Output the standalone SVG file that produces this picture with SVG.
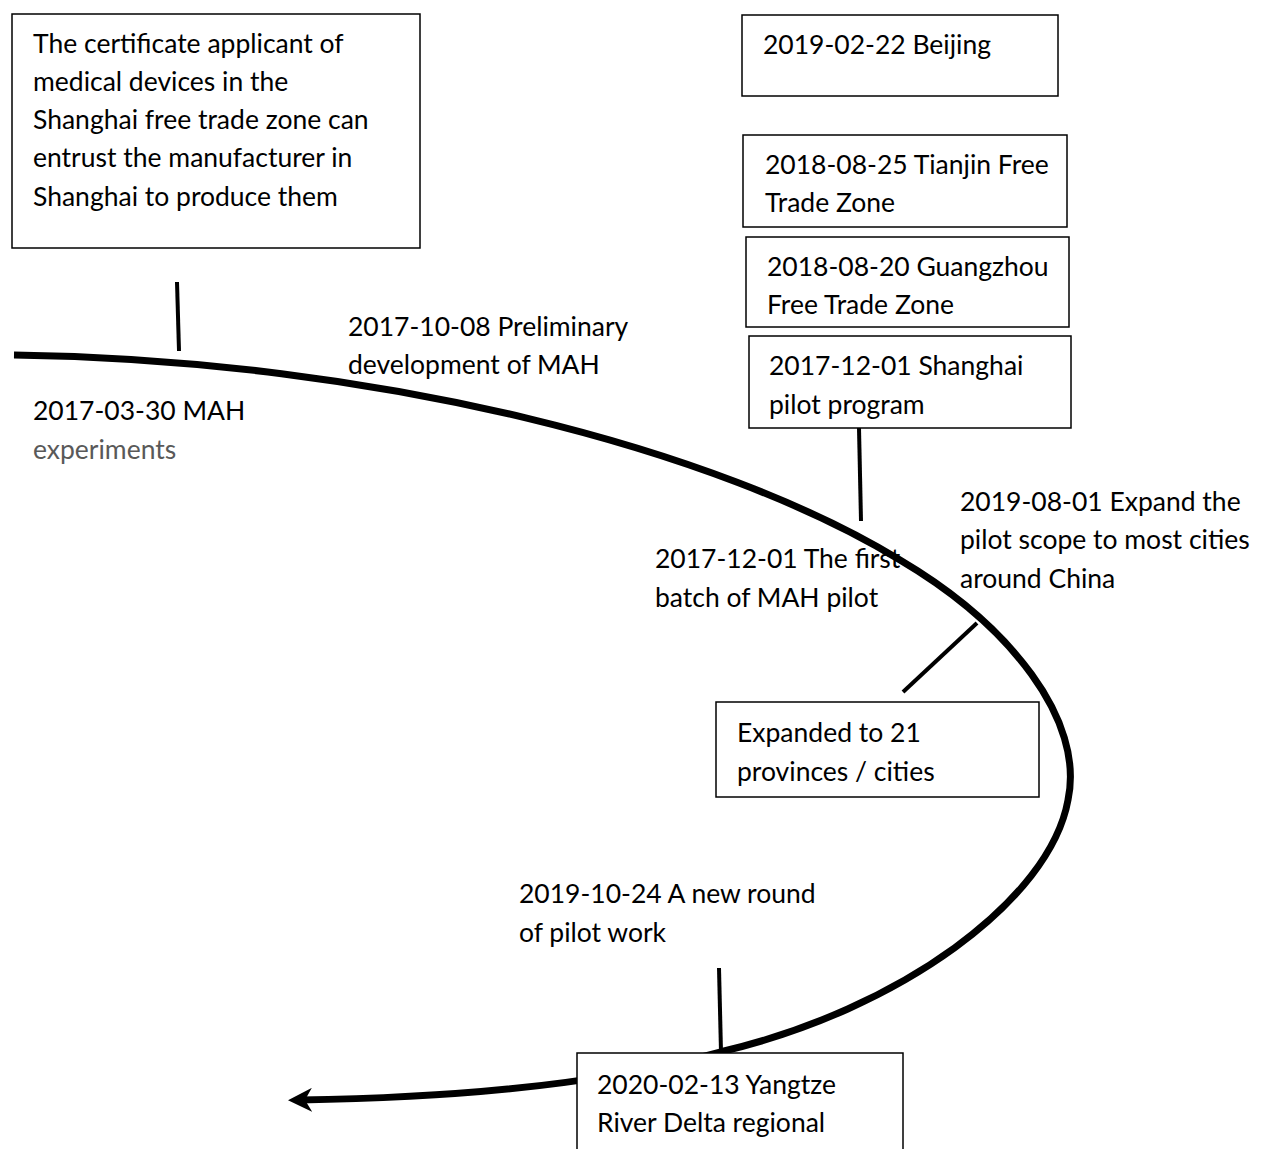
<svg xmlns="http://www.w3.org/2000/svg" width="1272" height="1149" viewBox="0 0 1272 1149">
<style>
.box{fill:#fff;stroke:#000;stroke-width:1.5}
.t{font-family:Lato,"Liberation Sans",sans-serif;font-size:26.5px;fill:#000}
.g{fill:#595959}
.tick{stroke:#000;stroke-width:4;fill:none}
.main{stroke:#000;stroke-width:7;fill:none}
</style>
<defs>
<marker id="arr" markerUnits="userSpaceOnUse" viewBox="0 0 24 24" refX="12" refY="12" markerWidth="24" markerHeight="24" orient="auto">
<path d="M24,12 L0,0 L7,12 L0,24 Z" fill="#000"/>
</marker>
</defs>
<rect width="1272" height="1149" fill="#fff"/>
<g id="connectors">
<path class="main" d="M14,355 C380,360 720,450 900,560 C1010,625 1085,720 1068,800 C1050,900 900,1010 720,1052 C600,1085 450,1098 300,1100" marker-end="url(#arr)"/>
<line class="tick" x1="177" y1="282" x2="179" y2="351"/>
<line class="tick" x1="859" y1="428" x2="861" y2="521"/>
<line class="tick" x1="977" y1="623" x2="903" y2="692"/>
<line class="tick" x1="719" y1="968" x2="721" y2="1052"/>
</g>
<g id="n-shanghai-ftz">
<rect class="box" x="12" y="14" width="408" height="234"/>
<text class="t" x="33" y="53">The certificate applicant of</text>
<text class="t" x="33" y="91">medical devices in the</text>
<text class="t" x="33" y="129">Shanghai free trade zone can</text>
<text class="t" x="33" y="167">entrust the manufacturer in</text>
<text class="t" x="33" y="206">Shanghai to produce them</text>
</g>
<g id="n-beijing">
<rect class="box" x="742" y="15" width="316" height="81"/>
<text class="t" x="763" y="54">2019-02-22 Beijing</text>
</g>
<g id="n-tianjin">
<rect class="box" x="743" y="135" width="324" height="92"/>
<text class="t" x="765" y="174">2018-08-25 Tianjin Free</text>
<text class="t" x="765" y="212">Trade Zone</text>
</g>
<g id="n-guangzhou">
<rect class="box" x="746" y="237" width="323" height="90"/>
<text class="t" x="767" y="276">2018-08-20 Guangzhou</text>
<text class="t" x="767" y="314">Free Trade Zone</text>
</g>
<g id="n-shanghai-pilot">
<rect class="box" x="749" y="336" width="322" height="92"/>
<text class="t" x="769" y="375">2017-12-01 Shanghai</text>
<text class="t" x="769" y="414">pilot program</text>
</g>
<g id="n-expanded">
<rect class="box" x="716" y="702" width="323" height="95"/>
<text class="t" x="737" y="742">Expanded to 21</text>
<text class="t" x="737" y="781">provinces / cities</text>
</g>
<g id="n-yangtze">
<rect class="box" x="577" y="1053" width="326" height="110"/>
<text class="t" x="597" y="1094">2020-02-13 Yangtze</text>
<text class="t" x="597" y="1132">River Delta regional</text>
</g>
<g id="n-preliminary">
<text class="t" x="348" y="336">2017-10-08 Preliminary</text>
<text class="t" x="348" y="374">development of MAH</text>
</g>
<g id="n-experiments">
<text class="t" x="33" y="420">2017-03-30 MAH</text>
<text class="t g" x="33" y="459">experiments</text>
</g>
<g id="n-first-batch">
<text class="t" x="655" y="568">2017-12-01 The first</text>
<text class="t" x="655" y="607">batch of MAH pilot</text>
</g>
<g id="n-expand-scope">
<text class="t" x="960" y="511">2019-08-01 Expand the</text>
<text class="t" x="960" y="549">pilot scope to most cities</text>
<text class="t" x="960" y="588">around China</text>
</g>
<g id="n-new-round">
<text class="t" x="519" y="903">2019-10-24 A new round</text>
<text class="t" x="519" y="942">of pilot work</text>
</g>
</svg>
